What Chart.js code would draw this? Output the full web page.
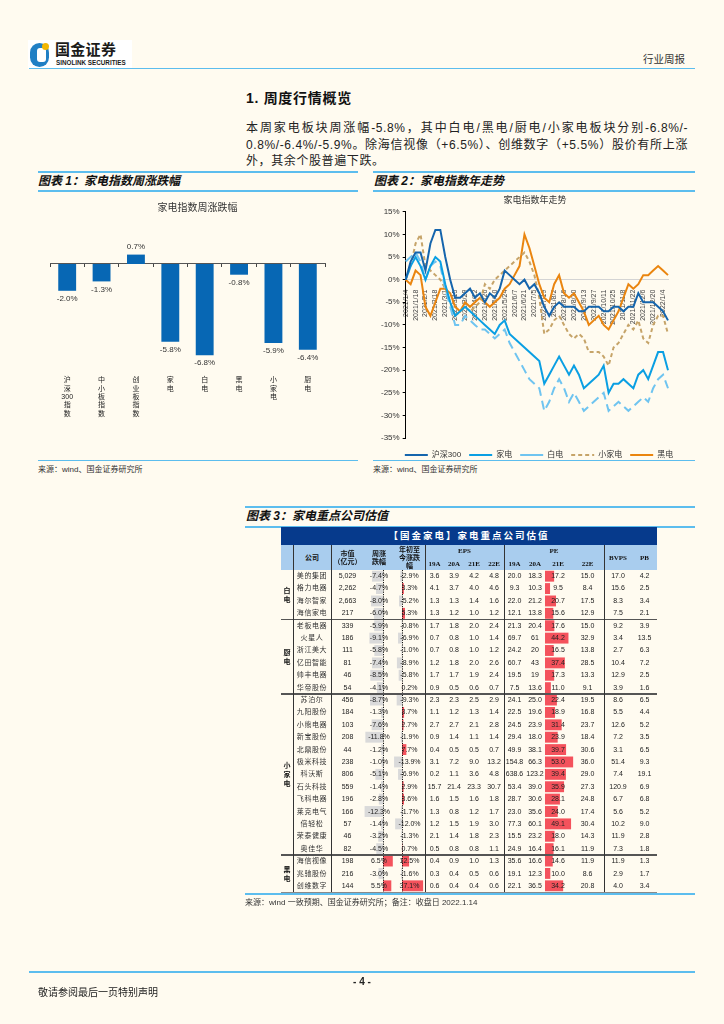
<!DOCTYPE html>
<html><head><meta charset="utf-8">
<script src="https://cdn.jsdelivr.net/npm/chart.js@4.4.0/dist/chart.umd.min.js"></script>
<style>
body{margin:0;background:#fffbf0;}
#page{position:relative;width:724px;height:1024px;overflow:hidden;background:#fffbf0;font-family:"Liberation Sans","Noto Sans CJK SC",sans-serif;color:#222;}
.a{position:absolute;}
.bl{position:absolute;height:1.5px;background:#5cbdee;}
.ct{position:absolute;font-weight:bold;font-style:italic;font-size:12px;line-height:14px;color:#111;white-space:nowrap;}
.src{position:absolute;font-size:8px;line-height:10px;color:#333;white-space:nowrap;}
.cell{position:absolute;text-align:center;font-size:7px;color:#222;white-space:nowrap;}
.hd{position:absolute;text-align:center;font-size:7px;font-weight:bold;color:#111;line-height:8px;white-space:nowrap;font-family:"Liberation Serif","Noto Sans CJK SC",serif;}
.pl{position:absolute;left:246px;width:442px;font-size:12px;line-height:16px;color:#222;white-space:nowrap;letter-spacing:0.6px;}
.pj{text-align:justify;text-align-last:justify;}
</style></head>
<body><div id="page">
<!-- header -->
<div class="a" style="left:28px;top:40px;width:104px;height:29px;background:#fff;"></div>
<div class="a" style="left:30px;top:43px;width:19px;height:24px;border-radius:10px;background:#1f7fc4;"></div>
<div class="a" style="left:37px;top:48px;width:9px;height:14px;border-radius:3px;background:#fff;"></div>
<div class="a" style="left:42px;top:43px;width:7px;height:7px;border-radius:4px;background:#f2b705;"></div>
<div class="a" style="left:55px;top:42px;font-size:15px;font-weight:bold;line-height:16px;color:#1b1b1b;letter-spacing:0.3px;">国金证券</div>
<div class="a" style="left:56px;top:58.5px;font-size:6.3px;font-weight:bold;line-height:7px;color:#1b1b1b;">SINOLINK SECURITIES</div>
<div class="a" style="left:643px;top:53px;font-size:10.5px;line-height:12px;color:#333;">行业周报</div>
<div class="bl" style="left:29px;top:67.5px;width:666px;"></div>

<div class="a" style="left:246px;top:90px;font-size:14px;font-weight:bold;line-height:16px;color:#111;letter-spacing:0.7px;">1. 周度行情概览</div>
<div class="pl pj" style="top:120px;">本周家电板块周涨幅-5.8%，其中白电/黑电/厨电/小家电板块分别-6.8%/-</div>
<div class="pl pj" style="top:136.5px;">0.8%/-6.4%/-5.9%。除海信视像（+6.5%）、创维数字（+5.5%）股价有所上涨</div>
<div class="pl" style="top:153px;">外，其余个股普遍下跌。</div>

<!-- chart 1 header -->
<div class="bl" style="left:38px;top:171px;width:320px;"></div>
<div class="ct" style="left:38px;top:174px;">图表 1：家电指数周涨跌幅</div>
<div class="bl" style="left:38px;top:190px;width:320px;"></div>
<div class="bl" style="left:38px;top:459.5px;width:320px;"></div>
<div class="src" style="left:38px;top:465px;">来源：wind、国金证券研究所</div>

<!-- chart 2 header -->
<div class="bl" style="left:373px;top:171px;width:322px;"></div>
<div class="ct" style="left:374px;top:174px;">图表 2：家电指数年走势</div>
<div class="bl" style="left:373px;top:190px;width:322px;"></div>
<div class="bl" style="left:373px;top:459.5px;width:322px;"></div>
<div class="src" style="left:373px;top:465px;">来源：wind、国金证券研究所</div>

<canvas id="c1" class="a" width="327" height="231" style="left:35px;top:192px;"></canvas>
<canvas id="c2" class="a" width="330" height="272" style="left:370px;top:192px;"></canvas>

<!-- chart 3 header -->
<div class="bl" style="left:245px;top:506px;width:450px;"></div>
<div class="ct" style="left:246px;top:509px;">图表 3：家电重点公司估值</div>
<div class="bl" style="left:245px;top:526px;width:450px;"></div>

<div id="tbl" class="a" style="left:0;top:0;width:724px;height:1024px;"></div>

<div class="bl" style="left:245px;top:893px;width:450px;"></div>
<div class="src" style="left:245px;top:898px;">来源：wind 一致预期、国金证券研究所；备注：收盘日 2022.1.14</div>

<!-- footer -->
<div class="bl" style="left:29px;top:971px;width:666px;height:2px;"></div>
<div class="a" style="left:342px;top:976px;width:40px;text-align:center;font-size:10px;font-weight:bold;line-height:12px;">- 4 -</div>
<div class="a" style="left:38px;top:987px;font-size:10px;line-height:12px;color:#222;">敬请参阅最后一页特别声明</div>
</div>

<script>
// ---------- Chart 1 data ----------
const weekCats = [['沪','深','300','指','数'],['中','小','板','指','数'],['创','业','板','指','数'],['家','电'],['白','电'],['黑','电'],['小','家','电'],['厨','电']];
const weekIdx = [-2.0,-1.3,0.7,-5.8,-6.8,-0.8,-5.9,-6.4];

// ---------- Chart 2 data ----------
const dates = ['2021/1/4','2021/1/11','2021/1/18','2021/1/25','2021/2/1','2021/2/8','2021/2/18','2021/2/22','2021/3/1','2021/3/8','2021/3/15','2021/3/22','2021/3/29','2021/4/6','2021/4/12','2021/4/19','2021/4/26','2021/5/6','2021/5/10','2021/5/17','2021/5/24','2021/5/31','2021/6/7','2021/6/15','2021/6/21','2021/6/28','2021/7/5','2021/7/12','2021/7/19','2021/7/26','2021/8/2','2021/8/9','2021/8/16','2021/8/23','2021/8/30','2021/9/6','2021/9/13','2021/9/22','2021/9/27','2021/10/8','2021/10/11','2021/10/18','2021/10/25','2021/11/1','2021/11/8','2021/11/15','2021/11/22','2021/11/29','2021/12/6','2021/12/13','2021/12/20','2021/12/27','2022/1/4','2022/1/10'];
const hs300 = [0,4,6,6,2,8,11,11,5,0,-4,-4,-3,-2,-4,-3,-5,-3,-4,-2,2,1,0,-1,0,-2,-1,-3,-6,-8,-6,-5,-6,-6,-6,-7,-7,-6,-6,-6,-7,-7,-6,-6,-7,-6,-6,-3,-5,-5,-5,-6,-7,-9];
const jiadian = [0,3,5,3,0,3,5,4,-1,-5,-8,-7,-6,-7,-8,-9,-10,-11,-12,-10,-9,-12,-13,-14,-15,-16,-17,-18,-23,-21,-19,-17,-19,-21,-19,-21,-24,-23,-22,-21,-19,-25,-23,-23,-22,-23,-24,-21,-20,-22,-19,-16,-16,-20];
const baidian = [4,5,6,4,0,3,4,3,-2,-6,-10,-10,-8,-9,-10,-11,-11,-12,-13,-12,-11,-14,-16,-18,-20,-22,-23,-24,-29,-27,-24,-22,-24,-27,-25,-27,-29,-28,-27,-26,-25,-29,-28,-27,-28,-29,-28,-27,-26,-27,-24,-22,-21,-24];
const xiaojiadian = [0,3,8,10,3,2,1,0,-2,-5,-8,-7,-6,-7,-6,-5,-1,-2,0,1,2,3,4,5,6,4,1,-4,-12,-11,-9,-8,-10,-12,-13,-12,-13,-16,-16,-16,-17,-19,-15,-14,-12,-10,-11,-9,-13,-14,-10,-8,-8,-12];
const heidian = [0,-1,2,1,-6,-8,-5,-2,-2,-3,-6,-7,-5,-6,-5,-4,-5,-6,-5,-4,-2,-1,1,3,10,7,3,-1,-4,-5,-1,1,-3,-4,-3,-5,-7,-10,-9,-8,-10,-11,-9,-7,-4,-1,-2,-1,1,1,2,3,2,1];
const yTicks = [15,10,5,0,-5,-10,-15,-20,-25,-30,-35];

// ---------- Table data ----------
const groupNames = ['白电','厨电','小家电','黑电'];
const groupSizes = [4,6,13,3];
const companies = ['美的集团','格力电器','海尔智家','海信家电','老板电器','火星人','浙江美大','亿田智能','帅丰电器','华帝股份','苏泊尔','九阳股份','小熊电器','新宝股份','北鼎股份','极米科技','科沃斯','石头科技','飞科电器','莱克电气','倍轻松','荣泰健康','奥佳华','海信视像','兆驰股份','创维数字'];
const mktCap = ['5,029','2,262','2,663','217','339','186','111','81','46','54','456','184','103','208','44','238','806','559','196','166','57','46','82','198','216','144'];
const weekChg = [-7.4,-4.7,-8.0,-6.0,-5.9,-9.1,-5.8,-7.4,-8.5,-4.1,-8.7,-1.3,-7.6,-11.8,-1.2,-1.0,-5.1,-1.4,-2.8,-12.3,-1.4,-3.2,-4.5,6.5,-3.0,5.5];
const ytdChg = [-2.9,3.3,-5.2,5.3,-0.8,-6.9,-1.0,-8.9,-5.8,0.2,-9.3,3.7,2.7,-1.9,7.7,-13.9,-6.9,2.9,3.6,-1.7,-12.0,-1.3,0.7,12.5,-1.6,37.1];
const eps19 = [3.6,4.1,1.3,1.3,1.7,0.7,0.7,1.2,1.7,0.9,2.3,1.1,2.7,0.9,0.4,3.1,0.2,15.7,1.6,1.3,1.2,2.1,0.5,0.4,0.3,0.6];
const eps20 = [3.9,3.7,1.3,1.2,1.8,0.8,0.8,1.8,1.7,0.5,2.3,1.2,2.7,1.4,0.5,7.2,1.1,21.4,1.5,0.8,1.5,1.4,0.8,0.9,0.4,0.4];
const eps21 = [4.2,4.0,1.4,1.0,2.0,1.0,1.0,2.0,1.9,0.6,2.5,1.3,2.1,1.1,0.5,9.0,3.6,23.3,1.6,1.2,1.9,1.8,0.8,1.0,0.5,0.4];
const eps22 = [4.8,4.6,1.6,1.2,2.4,1.4,1.2,2.6,2.4,0.7,2.9,1.4,2.8,1.4,0.7,13.2,4.8,30.7,1.8,1.7,3.0,2.3,1.1,1.3,0.6,0.6];
const pe19 = ['20.0','9.3','22.0','12.1','21.3','69.7','24.2','60.7','19.5','7.5','24.1','22.5','24.5','29.4','49.9','154.8','638.6','53.4','28.7','23.0','77.3','15.5','24.9','35.6','19.1','22.1'];
const pe20 = ['18.3','10.3','21.2','13.8','20.4','61','20','43','19','13.6','25.0','19.6','23.9','18.0','38.1','66.3','123.2','39.0','30.6','35.6','60.1','23.2','16.4','16.6','12.3','36.5'];
const pe21 = [17.2,9.5,20.7,15.6,17.6,44.2,16.5,37.4,17.3,11.0,22.4,18.9,31.4,23.9,39.7,53.0,39.4,35.9,28.1,24.0,49.1,18.0,16.1,14.6,10.0,34.2];
const pe22 = [15.0,8.4,17.5,12.9,15.0,32.9,13.8,28.5,13.3,9.1,19.5,16.8,23.7,18.4,30.6,36.0,29.0,27.3,24.8,17.4,30.4,14.3,11.9,11.9,8.6,20.8];
const bvps = [17.0,15.6,8.3,7.5,9.2,3.4,2.7,10.4,12.9,3.9,8.6,5.5,12.6,7.2,3.1,51.4,7.4,120.9,6.7,5.6,10.2,11.9,7.3,11.9,2.9,4.0];
const pb = [4.2,2.5,3.4,2.1,3.9,13.5,6.3,7.2,2.5,1.6,6.5,4.4,5.2,3.5,6.5,9.3,19.1,6.9,6.8,5.2,9.0,2.8,1.8,1.3,1.7,3.4];

const FONT = '"Liberation Sans","Noto Sans CJK SC",sans-serif';
Chart.defaults.font.family = FONT;
Chart.defaults.animation = false;

// shift title / legend layout boxes
const boxShift = (titleDx, legendDx, legendDy) => ({id:'boxShift', afterLayout(chart){
  if (chart.titleBlock && titleDx){ chart.titleBlock.left += titleDx; chart.titleBlock.right += titleDx; }
  if (chart.legend && (legendDx || legendDy)){ chart.legend.left += legendDx; chart.legend.right += legendDx;
    chart.legend.top += legendDy; chart.legend.bottom += legendDy; }
}});

// ---------- Chart 1 ----------
const barLabels = {id:'barLabels', afterDatasetsDraw(chart){
  const ctx = chart.ctx, meta = chart.getDatasetMeta(0);
  ctx.save(); ctx.font = '8px ' + FONT; ctx.fillStyle = '#333'; ctx.textAlign = 'center'; ctx.textBaseline = 'middle';
  meta.data.forEach((bar,i)=>{ const v = chart.data.datasets[0].data[i];
    ctx.fillText(v.toFixed(1)+'%', bar.x, v < 0 ? bar.y + 8 : bar.y - 8); });
  ctx.restore(); }};
new Chart(document.getElementById('c1'), {
  type:'bar',
  data:{labels:weekCats, datasets:[{data:weekIdx, backgroundColor:'#0767b4', barPercentage:0.52, categoryPercentage:1}]},
  options:{responsive:false, layout:{padding:{left:15,right:37,bottom:5}},
    plugins:{legend:{display:false}, tooltip:{enabled:false},
      title:{display:true, text:'家电指数周涨跌幅', color:'#333', font:{size:10, weight:'normal'}, padding:{top:10,bottom:28}}},
    scales:{
      x:{grid:{display:false}, border:{display:false}, ticks:{font:{size:7, lineHeight:1.2}, color:'#222', maxRotation:0, autoSkip:false, padding:0}},
      x2:{type:'category', axis:'x', labels:weekCats, position:{y:0}, offset:true,
          grid:{offset:true, drawOnChartArea:false, drawTicks:true, tickLength:3, color:'#444'},
          ticks:{display:false}, border:{display:true, color:'#555', width:1}},
      y:{display:false, min:-7.76, max:1.64}
    }},
  plugins:[barLabels, boxShift(10, 0, 0)]
});

// ---------- Chart 2 ----------
const ds = (label, data, color, dash) => ({label, data, borderColor:color, backgroundColor:color, borderWidth:2, pointRadius:0, borderDash:dash, tension:0, fill:false});
new Chart(document.getElementById('c2'), {
  type:'line',
  data:{labels:dates, datasets:[
    ds('沪深300', hs300, '#1565ad', []),
    ds('家电', jiadian, '#0a9fe3', []),
    ds('白电', baidian, '#6fc4f0', [9,5]),
    ds('小家电', xiaojiadian, '#c6a469', [4,3]),
    ds('黑电', heidian, '#ea850f', [])
  ]},
  options:{responsive:false, layout:{padding:{left:8,right:32}},
    plugins:{tooltip:{enabled:false},
      title:{display:true, text:'家电指数年走势', color:'#333', font:{size:9, weight:'normal'}, padding:{top:3,bottom:6}},
      legend:{position:'bottom', labels:{boxWidth:23, boxHeight:0, font:{size:8}, color:'#333', padding:8}}},
    scales:{
      x:{position:{y:0}, grid:{display:false}, border:{color:'#d4d4d4'},
         ticks:{autoSkip:false, maxRotation:90, minRotation:90, font:{size:7}, color:'#444', padding:2,
                callback:(v,i)=> i % 2 ? '' : dates[i]}},
      y:{min:-35, max:15, afterBuildTicks:(s)=>{ s.ticks = yTicks.map(v=>({value:v})); },
         ticks:{font:{size:8}, color:'#333', padding:3, callback:v=>v+'%'},
         grid:{drawOnChartArea:false, drawTicks:true, tickLength:3, color:'#000'},
         border:{color:'#000', width:1}}
    }},
  plugins:[boxShift(12, 16, 5)]
});

// ---------- Table ----------
const tbl = document.getElementById('tbl');
const T0 = 570, RH = 12.4, N = companies.length, TL = 281, TR = 657;
function el(cls, style, html){ const d = document.createElement('div'); d.className = cls; d.setAttribute('style', style); d.innerHTML = html || ''; tbl.appendChild(d); return d; }
el('a', `left:${TL}px;top:527px;width:${TR-TL}px;height:18px;background:#063a8c;`);
el('a', `left:${TL}px;top:527px;width:${TR-TL}px;height:18px;line-height:18px;text-align:center;color:#fff;font-weight:bold;font-size:9.5px;letter-spacing:2px;`, '【国金家电】家电重点公司估值');
el('a', `left:${TL}px;top:545px;width:${TR-TL}px;height:25px;background:#a9cdee;`);

const cols = [
  {l:293,w:38},{l:331,w:33},{l:364,w:30},{l:394,w:31},
  {l:425,w:19},{l:444,w:20},{l:464,w:20},{l:484,w:20},
  {l:504,w:21},{l:525,w:20},{l:545,w:26},{l:571,w:33},
  {l:604,w:28},{l:632,w:25}];

function colChart(left, width, data, min, max, zero){
  const c = document.createElement('canvas');
  c.width = width; c.height = Math.round(N*RH);
  c.className = 'a'; c.style.left = left+'px'; c.style.top = T0+'px';
  tbl.appendChild(c);
  const zl = {id:'zl', afterDraw(ch){ if(!zero) return; const x = ch.scales.x.getPixelForValue(0);
    const ctx = ch.ctx; ctx.save(); ctx.strokeStyle = '#111'; ctx.lineWidth = 1; ctx.setLineDash([1.2,1.2]);
    ctx.beginPath(); ctx.moveTo(Math.round(x)+0.5, 0); ctx.lineTo(Math.round(x)+0.5, ch.height); ctx.stroke(); ctx.restore(); }};
  new Chart(c, {type:'bar',
    data:{labels:companies, datasets:[{data, backgroundColor:data.map(v=> v<0 ? '#dadada' : '#f4525c'), barPercentage:0.88, categoryPercentage:1}]},
    options:{indexAxis:'y', responsive:false, layout:{padding:0},
      plugins:{legend:{display:false}, tooltip:{enabled:false}, title:{display:false}},
      scales:{x:{display:false, min, max}, y:{display:false}}},
    plugins:[zl]});
}
colChart(364, 30, weekChg, -12.7, 7.3, true);
colChart(394, 31, ytdChg, -14, 40.4, true);
colChart(545, 30, pe21, 0, 56.5, false);

function hcell(c, top, h, html){ el('hd', `left:${c.l}px;width:${c.w}px;top:${top}px;height:${h}px;display:flex;align-items:center;justify-content:center;`, html); }
hcell(cols[0], 545, 25, '公司');
hcell(cols[1], 545, 25, '市值<br>（亿元）');
hcell(cols[2], 545, 25, '周涨<br>跌幅');
hcell(cols[3], 545, 25, '年初至<br>今涨跌<br>幅');
hcell({l:425,w:79}, 545, 12, 'EPS');
hcell({l:504,w:100}, 545, 12, 'PE');
['19A','20A','21E','22E'].forEach((t,k)=>{ hcell(cols[4+k], 557, 13, t); hcell(cols[8+k], 557, 13, t); });
hcell(cols[12], 545, 25, 'BVPS');
hcell(cols[13], 545, 25, 'PB');

const f1 = v => v.toFixed(1);
const pct = v => v.toFixed(1)+'%';
for(let i=0;i<N;i++){
  const top = T0 + i*RH;
  const vals = [companies[i], mktCap[i], pct(weekChg[i]), pct(ytdChg[i]), f1(eps19[i]), f1(eps20[i]), f1(eps21[i]), f1(eps22[i]), pe19[i], pe20[i], f1(pe21[i]), f1(pe22[i]), f1(bvps[i]), f1(pb[i])];
  vals.forEach((t,k)=>{ el('cell', `left:${cols[k].l}px;width:${cols[k].w}px;top:${top}px;height:${RH}px;line-height:${RH}px;` + (k===0 ? 'letter-spacing:0.6px;color:#333;' : ''), t); });
}
let start = 0;
groupNames.forEach((g,gi)=>{
  const n = groupSizes[gi];
  el('a', `left:${TL}px;width:12px;top:${T0+start*RH}px;height:${n*RH}px;display:flex;align-items:center;justify-content:center;text-align:center;font-size:7px;font-weight:bold;line-height:9px;color:#111;`, g.split('').join('<br>'));
  start += n;
  if (gi < groupNames.length-1) el('a', `left:${TL}px;width:${TR-TL}px;top:${T0+start*RH-0.75}px;height:1.5px;background:#555;`);
});
[293,331,425,504,604].forEach(x=> el('a', `left:${x}px;top:545px;width:1px;height:${T0+N*RH-545}px;background:#333;`));
el('a', `left:${TL}px;width:${TR-TL}px;top:${T0+N*RH-0.5}px;height:2.5px;background:#8a8a8a;`);
</script>
</body></html>
